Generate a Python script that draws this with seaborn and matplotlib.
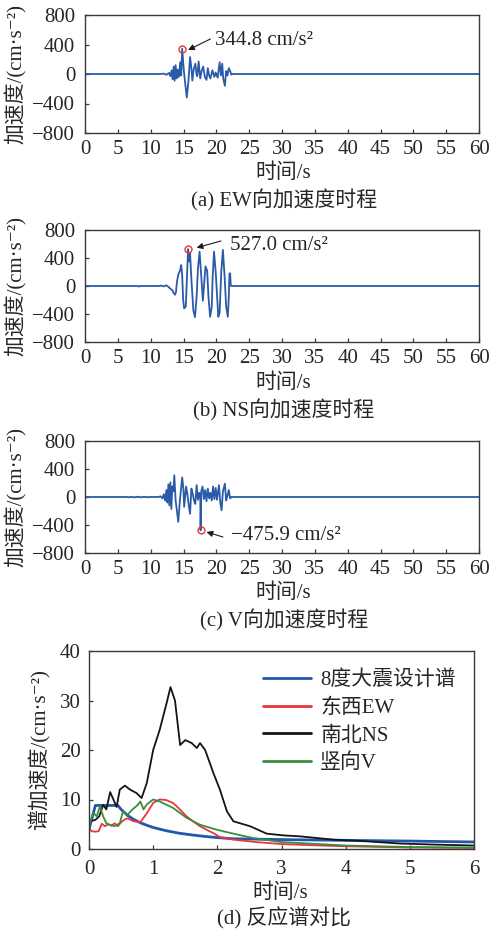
import numpy as np
import pandas as pd
import seaborn as sns
import matplotlib
matplotlib.use("Agg")
import matplotlib.pyplot as plt

# ---- acceleration time histories (time in s, accel in cm/s^2) ----
ew_t = [0, 11.5, 12.0, 12.4, 12.8, 13.0, 13.2, 13.35, 13.5, 13.65, 13.8, 13.95, 14.1, 14.3,
        14.5, 14.65, 14.8, 15.05, 15.2, 15.5, 15.75, 16.0, 16.2, 16.35, 16.55, 16.8, 17.0,
        17.1, 17.3, 17.55, 17.75, 18.0, 18.25, 18.5, 18.7, 18.9, 19.1, 19.4, 19.7, 19.9,
        20.2, 20.5, 20.7, 20.9, 21.05, 21.3, 21.5, 21.7, 21.9, 22.1, 22.3, 22.4, 60]
ew_a = [0, 0, 5, -10, 15, -30, 50, -70, 100, -90, 120, -60, 60, -40,
        160, -20, 344.8, 50, -80, -320, -100, 230, 80, -90, 60, 140, -10,
        -30, 170, -60, 40, 100, -40, -80, 80, -20, -60, 50, -40, 20,
        -50, 160, -20, 140, -60, -160, 40, -20, 80, 40, -10, 0, 0]

ns_t = [0, 8.0, 8.2, 8.4, 11.2, 11.6, 12.0, 12.4, 12.8, 13.0, 13.3, 13.5, 13.7, 13.85,
        14.0, 14.2, 14.5, 14.65, 14.8, 14.95, 15.1, 15.35, 15.7, 15.85, 16.0, 16.2, 16.5,
        16.75, 17.0, 17.2, 17.45, 17.7, 17.95, 18.2, 18.35, 18.6, 18.8, 19.05, 19.3, 19.45,
        19.65, 19.9, 20.3, 20.5, 20.75, 21.0, 21.25, 21.5, 21.75, 21.9, 22.0, 22.1, 22.2,
        22.3, 60]
ns_a = [0, 0, -8, 0, 0, 5, -5, 10, -20, -40, -60, -100, -125, -90,
        60, 160, 230, 300, 150, -200, -320, -290, 527.0, 350, 470, 100, -350,
        -445, -150, 250, 490, 150, -210, 100, 280, 220, -150, -440, -300, 150,
        490, 200, -440, -380, 200, 515, 150, -300, -440, -150, 180, 180, 5,
        0, 0]

v_t = [0, 6.5, 6.7, 7.0, 7.5, 8.0, 8.5, 9.0, 9.5, 9.9, 11.2, 11.5, 11.8, 12.0, 12.2,
       12.4, 12.55, 12.7, 12.85, 13.0, 13.15, 13.3, 13.45, 13.6, 13.8, 14.0, 14.2, 14.45,
       14.8, 15.0, 15.1, 15.4, 15.6, 15.8, 16.0, 16.2, 16.4, 16.6, 16.8, 17.0, 17.2, 17.4,
       17.55, 17.6, 17.7, 17.9, 18.1, 18.3, 18.5, 18.7, 18.9, 19.1, 19.3, 19.5, 19.7,
       19.9, 20.1, 20.4, 20.6, 20.8, 21.0, 21.3, 21.5, 21.7, 21.9, 22.1, 22.3, 60]
v_a = [0, 0, -5, 3, -5, 4, -4, 3, -3, 0, 0, 10, -20, 40, -50,
       100, -80, 180, -120, 210, -170, 150, 80, 310, -50, -200, -355, -50,
       280, 100, -140, 150, 40, -120, -240, 120, 50, -50, -100, 170, -40, 60,
       -20, -475.9, 80, 150, -30, 100, -60, 120, -20, 60, -50, 150, -30,
       130, -40, 170, -80, -190, 80, 190, -50, 20, 100, -20, 0, 0]

# peak annotations: (time, value, label)
ew_peak = (14.8, 344.8, "344.8 cm/s²")
ns_peak = (15.7, 527.0, "527.0 cm/s²")
v_peak = (17.6, -475.9, "−475.9 cm/s²")

# ---- response spectra (period in s) ----
design_T = [0, 0.1, 0.45, 0.5, 0.6, 0.7, 0.8, 0.9, 1.0, 1.2, 1.4, 1.6, 1.8, 2.0, 2.25, 3, 4, 5, 6]
design_S = [4.0, 8.8, 8.8, 8.0, 6.8, 5.95, 5.3, 4.8, 4.35, 3.7, 3.2, 2.85, 2.55, 2.3, 2.07,
            1.9, 1.75, 1.6, 1.42]

ew_T = [0, 0.04, 0.1, 0.15, 0.2, 0.25, 0.3, 0.35, 0.4, 0.45, 0.5, 0.55, 0.6, 0.65, 0.7,
        0.8, 0.9, 1.0, 1.1, 1.2, 1.31, 1.4, 1.52, 1.62, 1.73, 1.86, 1.94, 2.04, 2.25,
        2.6, 3.0, 3.5, 4.0, 5.0, 6.0]
ew_S = [4.2, 3.6, 3.5, 3.6, 5.1, 4.6, 5.0, 4.7, 5.2, 4.6, 5.4, 5.9, 6.2, 5.9, 5.6,
        5.4, 7.2, 9.3, 10.0, 9.9, 9.3, 8.2, 6.6, 5.6, 4.6, 3.7, 3.2, 2.4, 1.9,
        1.4, 1.0, 0.75, 0.55, 0.3, 0.2]

ns_T = [0, 0.02, 0.1, 0.16, 0.22, 0.27, 0.33, 0.38, 0.43, 0.48, 0.56, 0.64, 0.74, 0.82,
        0.9, 1.0, 1.1, 1.21, 1.27, 1.34, 1.42, 1.5, 1.6, 1.68, 1.73, 1.81, 1.94, 2.04,
        2.15, 2.25, 2.51, 2.77, 3.03, 3.29, 3.8, 4.33, 4.85, 5.37, 6.0]
ns_S = [4.8, 5.6, 5.9, 6.6, 8.9, 8.0, 11.5, 10.0, 8.5, 12.0, 12.8, 12.0, 11.3, 10.3,
        13.3, 20.0, 24.0, 29.5, 32.7, 30.0, 21.0, 22.0, 21.4, 20.4, 21.4, 20.0, 15.3, 12.0,
        7.6, 5.6, 4.6, 3.1, 2.75, 2.55, 1.9, 1.55, 1.1, 0.9, 0.7]

v_T = [0, 0.07, 0.12, 0.17, 0.22, 0.27, 0.32, 0.4, 0.48, 0.53, 0.6, 0.67, 0.76, 0.8,
       0.85, 0.9, 1.0, 1.1, 1.31, 1.52, 1.73, 1.99, 2.25, 2.56, 3.0, 4.0, 5.0, 6.0]
v_S = [4.6, 7.3, 6.6, 8.6, 6.6, 5.2, 4.9, 4.6, 5.2, 7.6, 6.9, 7.9, 8.9, 9.6,
       8.0, 9.0, 10.0, 9.6, 8.3, 6.3, 4.9, 3.9, 3.1, 2.2, 1.4, 0.7, 0.4, 0.3]

spectra = [
    ("8度大震设计谱", design_T, design_S, "#2456b0", 2.0),
    ("东西EW", ew_T, ew_S, "#e8363a", 1.3),
    ("南北NS", ns_T, ns_S, "#141414", 1.3),
    ("竖向V", v_T, v_S, "#3a8c40", 1.3),
]

captions = ["(a) EW向加速度时程", "(b) NS向加速度时程", "(c) V向加速度时程", "(d) 反应谱对比"]

# ---- styling ----
sns.set_theme(style="ticks")
FAM = ["Liberation Serif", "Noto Sans CJK SC", "DejaVu Sans"]
plt.rcParams["font.family"] = FAM
plt.rcParams["axes.unicode_minus"] = True
FS = 15
WAVE = "#2a5ba8"
SPINE = "#3a3a3a"

W, H = 490, 935
fig = plt.figure(figsize=(W / 100, H / 100), dpi=100)


def px_axes(left, top, right, bottom):
    return fig.add_axes([left / W, 1 - bottom / H, (right - left) / W, (bottom - top) / H])


def style_axes(ax, xpad, ypad):
    for s in ax.spines.values():
        s.set_color(SPINE)
        s.set_linewidth(1.0)
    ax.tick_params(direction="in", length=3, width=0.9, color=SPINE,
                   labelsize=FS, top=False, right=False)
    ax.tick_params(axis="x", pad=xpad)
    ax.tick_params(axis="y", pad=ypad)
    for lab in ax.get_xticklabels() + ax.get_yticklabels():
        lab.set_family(FAM)


wave_boxes = [(85, 15, 479, 133), (85, 230, 479, 342), (85, 441, 479, 553)]
waves = [(ew_t, ew_a, ew_peak), (ns_t, ns_a, ns_peak), (v_t, v_a, v_peak)]
# arrow tail / head and text anchor (data coords) for each peak label
arrows = [
    ((19.1, 475), (15.7, 325), (19.8, 452)),
    ((20.7, 643), (17.0, 547), (22.1, 585)),
    ((21.0, -571), (18.5, -500), (22.3, -547)),
]
xlab_y = [173, 383, 593]
cap_y = [200, 410, 620]

for i, (box, (t, a, peak), arr) in enumerate(zip(wave_boxes, waves, arrows)):
    ax = px_axes(*box)
    df = pd.DataFrame({"t": t, "a": a})
    sns.lineplot(data=df, x="t", y="a", ax=ax, color=WAVE, lw=1.3, sort=False,
                 estimator=None)
    ax.set_xlim(0, 60)
    ax.set_ylim(-800, 800)
    ax.set_xticks(np.arange(0, 61, 5))
    ax.set_yticks([-800, -400, 0, 400, 800])
    ax.set_xlabel("")
    ax.set_ylabel("加速度/(cm·s⁻²)", fontsize=FS, family=FAM)
    ax.yaxis.set_label_coords(-0.147, 0.5)
    style_axes(ax, 5, 7)
    pt, pv, ptxt = peak
    ax.plot([pt], [pv], marker="o", ms=5, mfc="none", mec="#e8363a", mew=1.0)
    (tx, ty), (hx, hy), (lx, ly) = arr
    ax.annotate("", xy=(hx, hy), xytext=(tx, ty),
                arrowprops=dict(arrowstyle="-|>", color="#1a1a1a", lw=0.8,
                                mutation_scale=9, shrinkA=0, shrinkB=0))
    ax.text(lx, ly, ptxt, fontsize=FS, family=FAM, ha="left", va="center")
    fig.text(283 / W, 1 - xlab_y[i] / H, "时间/s", fontsize=FS, family=FAM,
             ha="center", va="center")
    fig.text(284 / W, 1 - cap_y[i] / H, captions[i], fontsize=FS, family=FAM,
             ha="center", va="center")

# ---- response spectrum comparison ----
axd = px_axes(89, 651, 474, 849)
for name, T, S, col, lw in spectra:
    df = pd.DataFrame({"T": T, "S": S})
    sns.lineplot(data=df, x="T", y="S", ax=axd, color=col, lw=lw, label=name,
                 sort=False, estimator=None)
axd.set_xlim(0, 6)
axd.set_ylim(0, 40)
axd.set_xticks(range(0, 7))
axd.set_yticks([0, 10, 20, 30, 40])
axd.set_xlabel("")
axd.set_ylabel("谱加速度/(cm·s⁻²)", fontsize=FS, family=FAM)
axd.yaxis.set_label_coords(-0.099, 0.5)
style_axes(axd, 8, 6)
leg = axd.legend(loc="upper left", bbox_to_anchor=(0.452, 0.90), frameon=False,
                 borderpad=0, borderaxespad=0, handlelength=2.3, handletextpad=0.45,
                 labelspacing=0.38, prop={"family": FAM, "size": FS})
for h in leg.get_lines():
    h.set_linewidth(2.0)
fig.text(280 / W, 1 - 893 / H, "时间/s", fontsize=FS, family=FAM, ha="center", va="center")
fig.text(284 / W, 1 - 918 / H, captions[3], fontsize=FS, family=FAM, ha="center", va="center")

fig.savefig("out.png", dpi=100)
